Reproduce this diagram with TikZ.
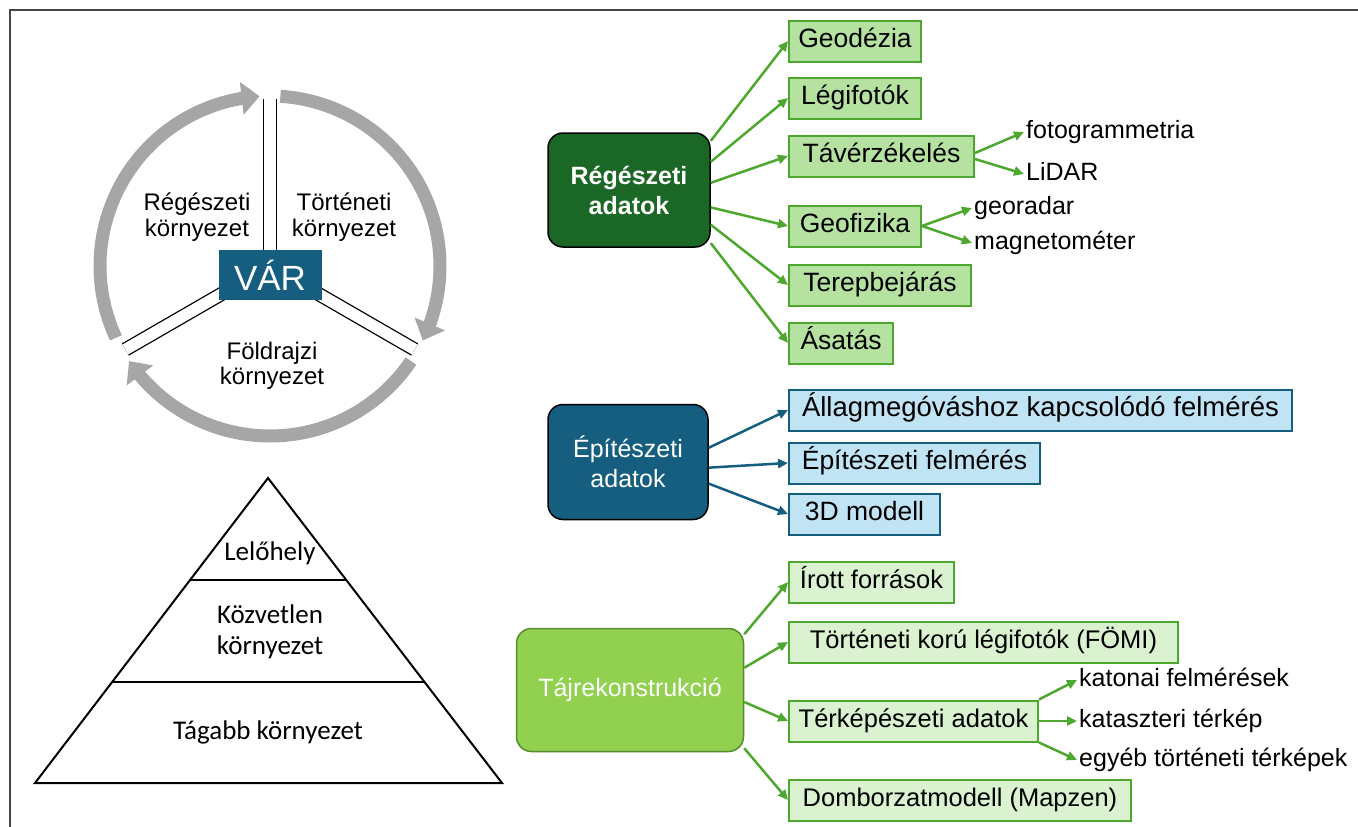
\documentclass[tikz,border=0pt]{standalone}
\usepackage{fontspec}
\setmainfont{Liberation Sans}
\newfontfamily\pyrfont{Carlito}
\usetikzlibrary{arrows.meta,bending,calc}

\definecolor{ringgray}{RGB}{166,166,166}
\definecolor{framegray}{RGB}{70,70,70}
\definecolor{vartea}{RGB}{22,94,128}
\definecolor{regdark}{RGB}{27,104,38}
\definecolor{regline}{RGB}{78,167,46}
\definecolor{regfill}{RGB}{181,226,161}
\definecolor{epfill}{RGB}{193,228,245}
\definecolor{tajfill}{RGB}{146,208,80}
\definecolor{tajline}{RGB}{84,140,48}
\definecolor{tajsub}{RGB}{218,242,208}

\begin{document}
\begin{tikzpicture}[x=1pt,y=-1pt,
  ring/.style={draw=ringgray,line width=13pt,-{Triangle[length=18pt,width=32pt]}},
  spoke/.style={draw=black,line width=1.3pt,double=white,double distance=11.5pt},
  varbox/.style={fill=vartea,text=white,minimum width=103pt,minimum height=50pt,
    inner sep=0pt,font=\fontsize{35}{40}\selectfont},
  envlabel/.style={align=center,font=\fontsize{24}{25.5}\selectfont},
  pyrlabel/.style={align=center,font=\pyrfont\fontsize{27}{31}\selectfont},
  mainbox/.style={rounded corners=15pt,draw=black,line width=1.5pt,text=white,
    minimum width=162pt,minimum height=114pt,align=center,
    font=\fontsize{25}{30}\selectfont},
  regmain/.style={mainbox,fill=regdark,font=\bfseries\fontsize{25}{30}\selectfont},
  epmain/.style={mainbox,fill=vartea,minimum width=160pt,minimum height=115pt},
  tajmain/.style={mainbox,fill=tajfill,draw=tajline,minimum width=227pt,minimum height=123pt},
  leaf/.style={anchor=west,minimum height=41pt,inner xsep=5pt,inner ysep=0pt,
    text height=19pt,text depth=5.5pt,line width=2pt,font=\fontsize{25.5}{30}\selectfont},
  regleaf/.style={leaf,draw=regline,fill=regfill,font=\fontsize{26.5}{30}\selectfont},
  epleaf/.style={leaf,draw=vartea,fill=epfill,font=\fontsize{26.5}{30}\selectfont},
  tajleaf/.style={leaf,draw=regline,fill=tajsub},
  subtext/.style={anchor=west,inner sep=2pt,text height=19pt,text depth=5.5pt,
    font=\fontsize{25}{30}\selectfont},
  regarrow/.style={draw=regline,line width=2.5pt,-{Triangle[length=10pt,width=9pt]}},
  eparrow/.style={regarrow,draw=vartea}]
\useasboundingbox (0,0) rectangle (1358,827);
\draw[framegray,line width=2pt] (10,827) -- (10,10) -- (1358,10);

% kor
\begin{scope}[shift={(270,266)},y=1pt]
  \coordinate (hub) at (0,0);
  \draw[ring] (205:170) arc[start angle=205,end angle=93.5,radius=170];
  \draw[ring] (86.5:170) arc[start angle=86.5,end angle=-26,radius=170];
  \draw[ring] (-34:170) arc[start angle=-34,end angle=-146,radius=170];
  \foreach \a in {90,-30,210}
    \draw[spoke] (hub) -- ($(hub)+(\a:167)$);
  \node[varbox] (var) at (0,-9) {VÁR};
  \node[envlabel] (regkorny) at (-73,49) {Régészeti\\környezet};
  \node[envlabel] (tortkorny) at (74,49) {Történeti\\környezet};
  \node[envlabel] (foldkorny) at (2,-100) {Földrajzi\\környezet};
\end{scope}

% piramis
\coordinate (apex) at (268,478);
\coordinate (bl) at (35,783);
\coordinate (br) at (502,783);
\draw[line width=2pt] (apex) -- (bl) -- (br) -- cycle;
\draw[line width=2pt] ($(apex)!0.334!(bl)$) -- ($(apex)!0.334!(br)$);
\draw[line width=2pt] ($(apex)!0.669!(bl)$) -- ($(apex)!0.669!(br)$);
\node[pyrlabel] (lelo) at (270,553) {Lelőhely};
\node[pyrlabel] (kozv) at (270,632) {Közvetlen\\környezet};
\node[pyrlabel] (tag) at (268,732) {Tágabb környezet};

% regeszeti adatok
\node[regmain] (reg) at (629,190) {Régészeti\\adatok};
\node[regleaf,minimum width=132pt] (geod) at (788,41) {Geodézia};
\node[regleaf,minimum width=132pt] (legi) at (788,98) {Légifotók};
\node[regleaf,minimum width=185pt] (tave) at (788,156) {Távérzékelés};
\node[regleaf,minimum width=132pt] (geof) at (788,226) {Geofizika};
\node[regleaf,minimum width=182pt] (terep) at (788,285) {Terepbejárás};
\node[regleaf,minimum width=104pt] (asat) at (788,343) {Ásatás};
\node[subtext] (fotog) at (1024,132) {fotogrammetria};
\node[subtext] (lidar) at (1024,174) {LiDAR};
\node[subtext] (georad) at (972,208) {georadar};
\node[subtext] (magnet) at (972,243) {magnetométer};
\foreach \t/\a in {geod/31,legi/19,tave/5,geof/-12,terep/-23,asat/-33}
  \draw[regarrow] (reg.\a) -- (\t.west);
\draw[regarrow] ([yshift=3pt]tave.east) -- (fotog.west);
\draw[regarrow] ([yshift=-3pt]tave.east) -- (lidar.west);
\draw[regarrow] (geof.east) -- (georad.west);
\draw[regarrow] (geof.east) -- (magnet.west);

% epiteszeti adatok
\node[epmain] (epit) at (628,462) {Építészeti\\adatok};
\node[epleaf,minimum width=503pt,font=\fontsize{27.5}{30}\selectfont] (allag) at (788,410) {Állagmegóváshoz kapcsolódó felmérés};
\node[epleaf,minimum width=251pt] (epfel) at (788,463) {Építészeti felmérés};
\node[epleaf,minimum width=151pt] (model) at (788,514) {3D modell};
\foreach \t/\a in {allag/10,epfel/-4,model/-15}
  \draw[eparrow] (epit.\a) -- (\t.west);

% tajrekonstrukcio
\node[tajmain] (taj) at (630,690) {Tájrekonstrukció};
\node[tajleaf,minimum width=165pt] (irott) at (788,582) {Írott források};
\node[tajleaf,minimum width=389pt] (tortlegi) at (788,642) {Történeti korú légifotók (FÖMI)};
\node[tajleaf,minimum width=249pt] (terkep) at (788,721) {Térképészeti adatok};
\node[tajleaf,minimum width=342pt] (dombor) at (788,800) {Domborzatmodell (Mapzen)};
\node[subtext] (katonai) at (1077,680) {katonai felmérések};
\node[subtext] (kataszt) at (1077,721) {kataszteri térkép};
\node[subtext] (egyeb) at (1077,760) {egyéb történeti térképek};
\foreach \t/\a in {irott/26,tortlegi/11,terkep/-6,dombor/-27}
  \draw[regarrow] (taj.\a) -- (\t.west);
\draw[regarrow] (terkep.north east) -- (katonai.west);
\draw[regarrow] (terkep.east) -- (kataszt.west);
\draw[regarrow] (terkep.south east) -- (egyeb.west);
\end{tikzpicture}
\end{document}
